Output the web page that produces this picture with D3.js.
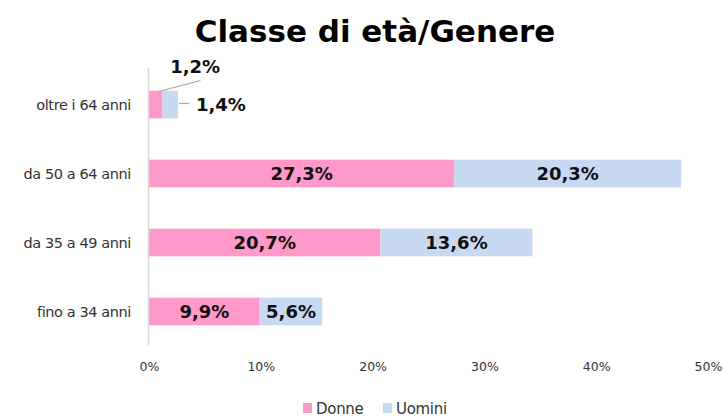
<!DOCTYPE html>
<html>
<head>
<meta charset="utf-8">
<script src="https://cdn.jsdelivr.net/npm/d3@7"></script>
<style>
  body { margin: 0; background: #fff; }
  svg { display: block; }
</style>
</head>
<body>
<div class="canvas"></div>
<script>
const categories = ["oltre i 64 anni", "da 50 a 64 anni", "da 35 a 49 anni", "fino a 34 anni"];
const donne = [1.2, 27.3, 20.7, 9.9];
const uomini = [1.4, 20.3, 13.6, 5.6];
const seriesNames = ["Donne", "Uomini"];
const xTicks = [0, 10, 20, 30, 40, 50];

const w = 725;
const h = 417;
const colors = { Donne: "#fe99c9", Uomini: "#c6d9f1" };
const fmt = v => v.toFixed(1).replace(".", ",") + "%";

const svg = d3.select(".canvas")
  .append("svg")
  .attr("width", w)
  .attr("height", h);

// title
svg.append("text")
  .attr("x", 375)
  .attr("y", 42)
  .attr("text-anchor", "middle")
  .attr("font-family", "DejaVu Sans, Verdana, sans-serif")
  .attr("font-weight", "bold")
  .attr("font-size", 31)
  .attr("fill", "#000")
  .text("Classe di età/Genere");

// scales
const x = d3.scaleLinear().domain([0, 50]).range([149, 708]);
const y = d3.scaleBand()
  .domain(categories)
  .range([70, 346])
  .paddingInner(0.6)
  .paddingOuter(0.3);

// stacked data
const rows = categories.map((c, i) => ({ cat: c, Donne: donne[i], Uomini: uomini[i] }));
const stacked = d3.stack().keys(seriesNames)(rows);

// bars
svg.append("g")
  .selectAll("g")
  .data(stacked)
  .enter()
  .append("g")
  .attr("fill", d => colors[d.key])
  .selectAll("rect")
  .data(d => d)
  .enter()
  .append("rect")
  .attr("x", d => x(d[0]))
  .attr("y", d => y(d.data.cat))
  .attr("width", d => x(d[1]) - x(d[0]))
  .attr("height", y.bandwidth());

// left axis line
svg.append("line")
  .attr("x1", x(0) - 0.5)
  .attr("x2", x(0) - 0.5)
  .attr("y1", 68)
  .attr("y2", 346)
  .attr("stroke", "#d9d9d9")
  .attr("stroke-width", 1.5);

// category labels
svg.append("g")
  .selectAll("text")
  .data(categories)
  .enter()
  .append("text")
  .attr("x", 131)
  .attr("y", d => y(d) + y.bandwidth() / 2)
  .attr("dy", "0.35em")
  .attr("text-anchor", "end")
  .attr("font-family", "DejaVu Sans, Verdana, sans-serif")
  .attr("font-size", 14.5)
  .attr("letter-spacing", -0.4)
  .attr("fill", "#333")
  .text(d => d);

// x tick labels
const xAxis = d3.axisBottom(x)
  .tickValues(xTicks)
  .tickSize(0)
  .tickPadding(0)
  .tickFormat(d => d + "%");
const xAxisGroup = svg.append("g")
  .attr("transform", "translate(0, 362)")
  .call(xAxis);
xAxisGroup.select(".domain").remove();
xAxisGroup.selectAll("text")
  .attr("font-family", "DejaVu Sans, Verdana, sans-serif")
  .attr("font-size", 12.5)
  .attr("fill", "#333");

// value labels
const labelStyle = sel => sel
  .attr("font-family", "DejaVu Sans, Verdana, sans-serif")
  .attr("font-weight", "bold")
  .attr("font-size", 18)
  .attr("fill", "#111");

stacked.forEach(series => {
  series.forEach((d, i) => {
    const cy = y(d.data.cat) + y.bandwidth() / 2;
    if (i === 0) {
      // small bar: labels outside with leader lines
      if (series.key === "Donne") {
        svg.append("line")
          .attr("x1", x((d[0] + d[1]) / 2) + 3).attr("y1", cy - 13)
          .attr("x2", x(4.6)).attr("y2", cy - 24)
          .attr("stroke", "#a6a6a6").attr("stroke-width", 1.2);
        svg.append("text")
          .attr("x", x(1.9))
          .attr("y", cy - 38)
          .attr("dy", "0.35em")
          .call(labelStyle)
          .text(fmt(d.data.Donne));
      } else {
        svg.append("line")
          .attr("x1", x(d[1]) + 1).attr("y1", cy - 1)
          .attr("x2", x(3.6)).attr("y2", cy - 1)
          .attr("stroke", "#a6a6a6").attr("stroke-width", 1.2);
        svg.append("text")
          .attr("x", x(4.2))
          .attr("y", cy)
          .attr("dy", "0.35em")
          .call(labelStyle)
          .text(fmt(d.data.Uomini));
      }
      return;
    }
    svg.append("text")
      .attr("x", x((d[0] + d[1]) / 2))
      .attr("y", cy)
      .attr("dy", "0.35em")
      .attr("text-anchor", "middle")
      .call(labelStyle)
      .text(fmt(d.data[series.key]));
  });
});

// legend
const legend = svg.append("g").attr("transform", "translate(303, 408)");
const legendX = [0, 80];
seriesNames.forEach((name, i) => {
  legend.append("rect")
    .attr("x", legendX[i])
    .attr("y", -5)
    .attr("width", 9)
    .attr("height", 10)
    .attr("fill", colors[name]);
  legend.append("text")
    .attr("x", legendX[i] + 13)
    .attr("y", 1)
    .attr("dy", "0.35em")
    .attr("font-family", "DejaVu Sans, Verdana, sans-serif")
    .attr("font-size", 15)
    .attr("letter-spacing", -0.3)
    .attr("fill", "#333")
    .text(name);
});
</script>
</body>
</html>
